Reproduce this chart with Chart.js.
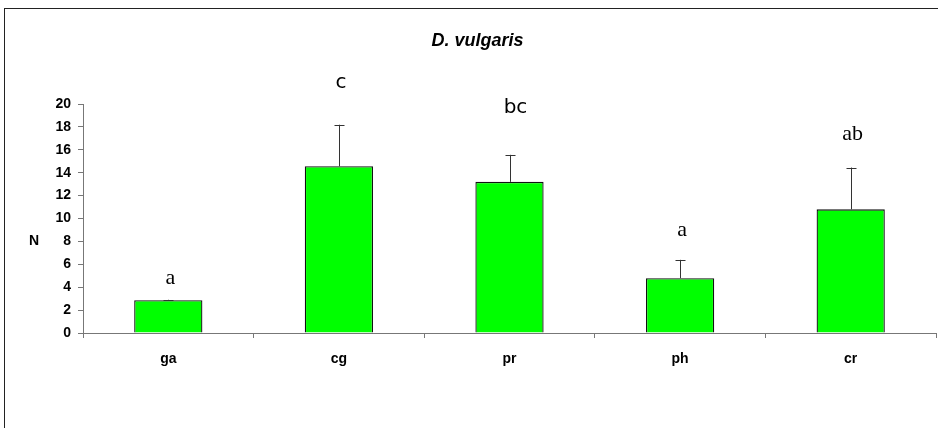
<!DOCTYPE html>
<html>
<head>
<meta charset="utf-8">
<script src="https://cdn.jsdelivr.net/npm/chart.js@4/dist/chart.umd.min.js"></script>
<style>
  html, body { margin: 0; padding: 0; background: #fff; }
  #wrap { position: relative; width: 938px; height: 428px; overflow: hidden; }
  #frame { position: absolute; left: 4px; top: 8px; width: 960px; height: 460px;
           border-left: 1px solid #222; border-top: 1px solid #222; pointer-events: none; }
  canvas { position: absolute; left: 0; top: 0; }
</style>
</head>
<body>
<div id="wrap">
  <canvas id="chart" width="938" height="428"></canvas>
  <div id="frame"></div>
</div>
<script>
const categories = ['ga', 'cg', 'pr', 'ph', 'cr'];
const means = [2.87, 14.56, 13.2, 4.79, 10.8];
const errTop = [2.9, 18.19, 15.56, 6.39, 14.45];
const letters = ['a', 'c', 'bc', 'a', 'ab'];
const letterAt = [4.26, 21.37, 19.24, 8.43, 16.84];
const letterSerif = [true, false, false, true, true];
const yTicks = [0, 2, 4, 6, 8, 10, 12, 14, 16, 18, 20];

const axisColor = '#777';
const labelFont = '"Liberation Sans", Arial, sans-serif';

const extras = {
  id: 'extras',
  afterDatasetsDraw(chart) {
    const { ctx, chartArea, scales: { y } } = chart;
    const bars = chart.getDatasetMeta(0).data;
    ctx.save();
    // error bars
    ctx.strokeStyle = '#333';
    ctx.lineWidth = 1;
    bars.forEach((bar, i) => {
      const x = Math.round(bar.x) + 0.5;
      const top = y.getPixelForValue(errTop[i]);
      const base = y.getPixelForValue(means[i]);
      ctx.beginPath();
      ctx.moveTo(x, base);
      ctx.lineTo(x, top);
      ctx.moveTo(x - 5, Math.round(top) + 0.5);
      ctx.lineTo(x + 5, Math.round(top) + 0.5);
      ctx.stroke();
    });
    // significance letters
    ctx.fillStyle = '#000';
    ctx.textAlign = 'center';
    ctx.textBaseline = 'alphabetic';
    bars.forEach((bar, i) => {
      ctx.font = letterSerif[i] ? '22px "Liberation Serif", serif' : '20px "DejaVu Sans", sans-serif';
      ctx.fillText(letters[i], bar.x + (i === 2 ? 6 : 2), y.getPixelForValue(letterAt[i]));
    });
    // title, a bit right of the canvas centre like the original
    ctx.font = 'italic bold 18px ' + labelFont;
    ctx.textBaseline = 'middle';
    ctx.fillText('D. vulgaris', (chartArea.left + chartArea.right) / 2 - 32, 41);
    // N label
    ctx.font = 'bold 14px ' + labelFont;
    ctx.fillText('N', 34, y.getPixelForValue(8));
    ctx.restore();
  }
};

new Chart(document.getElementById('chart'), {
  type: 'bar',
  data: {
    labels: categories,
    datasets: [{
      data: means,
      backgroundColor: '#00ff00',
      borderColor: '#111',
      borderWidth: 1.3,
      barPercentage: 0.4,
      categoryPercentage: 1
    }]
  },
  options: {
    responsive: false,
    animation: false,
    layout: { padding: { left: 0, right: 2, top: 104, bottom: 0 } },
    plugins: {
      legend: { display: false },
      tooltip: { enabled: false },
      title: { display: false }
    },
    scales: {
      x: {
        grid: { drawOnChartArea: false, drawTicks: true, tickLength: 5, color: axisColor, offset: true },
        border: { color: axisColor, width: 1 },
        ticks: {
          color: '#000',
          padding: 13,
          font: { family: labelFont, size: 14, weight: 'bold' }
        },
        afterFit(scale) { scale.height = 95; }
      },
      y: {
        min: 0,
        max: 20,
        afterBuildTicks(scale) { scale.ticks = yTicks.map(v => ({ value: v })); },
        grid: { drawOnChartArea: false, drawTicks: true, tickLength: 5, color: axisColor },
        border: { color: axisColor, width: 1 },
        ticks: {
          color: '#000',
          padding: 7,
          font: { family: labelFont, size: 14, weight: 'bold' }
        },
        afterFit(scale) { scale.width = 83; }
      }
    }
  },
  plugins: [extras]
});
</script>
</body>
</html>
